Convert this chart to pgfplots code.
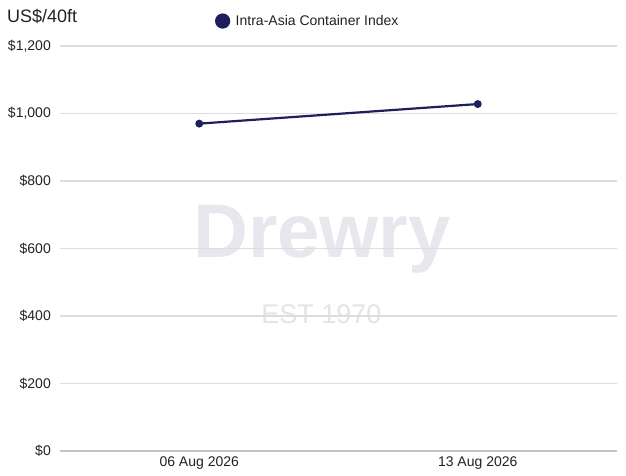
\documentclass[border=0pt]{standalone}
\usepackage{pgfplots}
\pgfplotsset{compat=1.18}
\usepackage{fontspec}
\setmainfont{Liberation Sans}
\definecolor{navy}{HTML}{1E1F5C}
\definecolor{gridc}{HTML}{DDDDDD}
\definecolor{basec}{HTML}{C4C4C4}
\definecolor{wm}{HTML}{E7E8EE}
\definecolor{wmt}{HTML}{E4E4E8}
\definecolor{txt}{HTML}{222222}
\begin{document}
\begin{tikzpicture}[x=1pt,y=1pt]
\useasboundingbox (0,0) rectangle (626,475);
% watermark
\node[anchor=base, inner sep=0pt, text=wm, font=\fontsize{76}{76}\selectfont\bfseries] at (322,218) {Drewry};
\node[anchor=base, inner sep=0pt, text=wmt, font=\fontsize{27}{27}\selectfont] at (321.5,152) {EST 1970};
% title
\node[anchor=west, inner sep=0pt, text=txt, font=\fontsize{18}{20}\selectfont] at (7,458.5) {US\$/40ft};
\begin{axis}[
  at={(60pt,24pt)}, anchor=south west,
  scale only axis, width=557pt, height=405pt,
  xmin=-0.5, xmax=1.5, ymin=0, ymax=1200,
  xtick={0,1}, xticklabels={06 Aug 2026,13 Aug 2026},
  ytick={0,200,400,600,800,1000,1200},
  yticklabels={\$0,\$200,\$400,\$600,\$800,\$1{,}000,\$1{,}200},
  axis line style={draw=none},
  major tick length=0pt,
  ymajorgrids, grid style={gridc, line width=1.1pt},
  extra y ticks={0}, extra y tick labels={},
  extra y tick style={grid style={basec, line width=1.8pt}},
  tick label style={text=txt, font=\fontsize{14}{16}\selectfont},
  yticklabel style={inner sep=0pt, anchor=east, xshift=-9pt},
  xticklabel style={inner sep=0pt, anchor=north, yshift=-6pt},
  legend style={draw=none, fill=none, inner sep=0pt,
    at={(axis description cs:0.278,1.0617)}, anchor=west,
    font=\fontsize{14}{16}\selectfont, text=txt},
  legend image code/.code={\fill[navy] (5pt,0pt) circle (6.5pt); \path (15pt,0pt);},
  clip=false,
]
\addplot[navy, line width=2.2pt, mark=*, mark size=2.8pt, mark options={fill=navy, draw=navy}]
  coordinates {(0,970) (1,1028)};
\addlegendentry{Intra-Asia Container Index}
\end{axis}
\end{tikzpicture}
\end{document}
